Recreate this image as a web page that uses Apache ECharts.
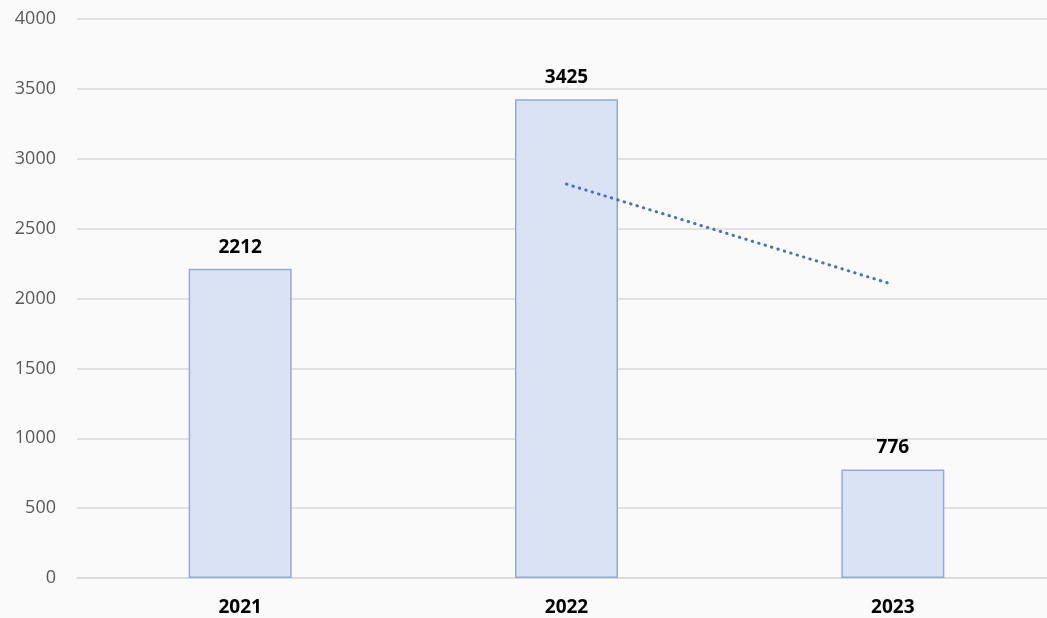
<!DOCTYPE html>
<html>
<head>
<meta charset="utf-8">
<script src="https://cdn.jsdelivr.net/npm/echarts@6/dist/echarts.min.js"></script>
<style>
html, body { margin: 0; padding: 0; background: #fafafa; overflow: hidden; }
#chart { width: 1056px; height: 618px; }
</style>
</head>
<body>
<div id="chart"></div>
<script>
// Yearly totals
const years = ['2021', '2022', '2023'];
const totals = [2212, 3425, 776];
// Two-period moving average trend
const trend = [null, 2818.5, 2100.5];
const yTicks = { min: 0, max: 4000, interval: 500 };

const chart = echarts.init(document.getElementById('chart'), null, { renderer: 'canvas' });
chart.setOption({
  backgroundColor: '#fafafa',
  animation: false,
  textStyle: { fontFamily: 'Open Sans' },
  grid: { left: 77, top: 19, right: 0, height: 559, containLabel: false },
  xAxis: {
    type: 'category',
    data: years,
    axisLine: { show: true, lineStyle: { color: '#d9d9d9', width: 1.5 } },
    axisTick: { show: false },
    axisLabel: { color: '#000', fontWeight: 'bold', fontSize: 19, margin: 20, fontFamily: 'Open Sans' }
  },
  yAxis: {
    type: 'value',
    min: yTicks.min, max: yTicks.max, interval: yTicks.interval,
    axisLine: { show: false },
    axisTick: { show: false },
    axisLabel: { color: '#595959', fontSize: 18, margin: 21, fontFamily: 'Open Sans', formatter: v => String(v) },
    splitLine: { lineStyle: { color: '#d9d9d9', width: 1.5 } }
  },
  series: [
    {
      type: 'bar',
      data: totals,
      barWidth: 103,
      itemStyle: { color: '#dae3f3', borderColor: '#8faadc', borderWidth: 1.5 },
      label: { show: true, position: 'top', distance: 12, color: '#000', fontWeight: 'bold', fontSize: 19, fontFamily: 'Open Sans' }
    },
    {
      type: 'line',
      data: trend,
      symbol: 'none',
      lineStyle: { color: '#4472c4', width: 3, type: [0.5, 6.2], cap: 'round' },
      z: 5
    }
  ]
});
</script>
</body>
</html>
